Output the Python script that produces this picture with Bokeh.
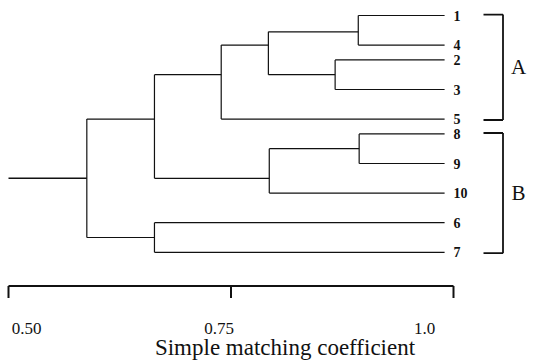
from bokeh.plotting import figure
from bokeh.models import Range1d, ColumnDataSource
from bokeh.core.properties import value
from bokeh.embed import file_html
from bokeh.resources import INLINE

# ---------------- data ----------------
leaf_labels = ["1", "4", "2", "3", "5", "8", "9", "10", "6", "7"]
leaf_rows = [0, 1, 1.5, 2.5, 3.5, 4, 5, 6, 7, 8]
leaf_similarity = 0.99

merge_names = ["m1", "m2", "m3", "m4", "m5", "m6", "m7", "m8", "m9"]
merge_left = ["1", "2", "m1", "m3", "8", "m5", "m4", "6", "m7"]
merge_right = ["4", "3", "m2", "5", "9", "10", "m6", "7", "m8"]
merge_similarity = [0.893, 0.867, 0.792, 0.739, 0.894, 0.793, 0.664, 0.664, 0.588]
merge_rows = [0.55, 2.0, 1.0, 2.0, 4.5, 5.5, 3.5, 7.5, 5.5]

cluster_names = ["A", "B"]
cluster_members = [["1", "4", "2", "3", "5"], ["8", "9", "10", "6", "7"]]

tick_values = [0.50, 0.75, 1.0]
tick_labels = ["0.50", "0.75", "1.0"]
axis_title = "Simple matching coefficient"

# ---------------- layout ----------------
W, H = 537, 361
PX_PER_UNIT = 890.0
ROW_PX = 29.6
TOP = 15.0      # pixel row of the first leaf
LEFT = 8.0      # pixel column of the scale's start
SERIF = value("Liberation Serif")
INK = "#111111"


def row_at(py):
    return (py - TOP) / ROW_PX


def sim_at(px):
    return tick_values[0] + (px - LEFT) / PX_PER_UNIT


p = figure(width=W, height=H, output_backend="svg", toolbar_location=None,
           x_range=Range1d(sim_at(0), sim_at(W)),
           y_range=Range1d(row_at(H), row_at(0)),
           x_axis_location=None, y_axis_location=None, min_border=0)
p.outline_line_color = None
p.grid.visible = False
p.background_fill_color = "white"
p.border_fill_color = "white"

# node positions
x_of = {lab: leaf_similarity for lab in leaf_labels}
y_of = dict(zip(leaf_labels, leaf_rows))
for n, s, r in zip(merge_names, merge_similarity, merge_rows):
    x_of[n] = s
    y_of[n] = r

x0, y0, x1, y1 = [], [], [], []
for n, a, b in zip(merge_names, merge_left, merge_right):
    s = x_of[n]
    x0.append(s); y0.append(y_of[a]); x1.append(s); y1.append(y_of[b])
    for c in (a, b):
        x0.append(s); y0.append(y_of[c]); x1.append(x_of[c]); y1.append(y_of[c])

p.segment(x0=x0, y0=y0, x1=x1, y1=y1, line_color=INK, line_width=1.2)

# root stem
root = merge_names[-1]
p.segment(x0=[tick_values[0]], y0=[y_of[root]], x1=[x_of[root]], y1=[y_of[root]],
          line_color=INK, line_width=1.6)

# leaf labels
p.text(x=[leaf_similarity] * len(leaf_labels), y=leaf_rows, text=leaf_labels,
       x_offset=9, text_align="left", text_baseline="middle",
       text_font=SERIF, text_font_size="14px", text_font_style="bold", text_color=INK)

# cluster brackets
bx0, bx1, bxl = sim_at(483), sim_at(502.5), sim_at(518)
for name, members in zip(cluster_names, cluster_members):
    rows = [y_of[m] for m in members]
    top, bot = min(rows) - 0.03, max(rows) + 0.03
    p.segment(x0=[bx0, bx1, bx0], y0=[top, top, bot], x1=[bx1, bx1, bx1], y1=[top, bot, bot],
              line_color=INK, line_width=1.8)
    p.text(x=[bxl], y=[(top + bot) / 2], text=[name], text_align="center",
           text_baseline="middle", text_font=SERIF, text_font_size="21px", text_color=INK)

# scale bar
ax_row = row_at(285.5)
tick_end = row_at(297.5)
p.segment(x0=[tick_values[0]], y0=[ax_row], x1=[tick_values[-1]], y1=[ax_row],
          line_color=INK, line_width=2)
p.segment(x0=tick_values, y0=[ax_row] * len(tick_values), x1=tick_values,
          y1=[tick_end] * len(tick_values), line_color=INK, line_width=2)
lab_src = ColumnDataSource(dict(x=tick_values, y=[row_at(328)] * len(tick_values),
                                text=tick_labels, dx=[18, -12, -29]))
p.text(x="x", y="y", text="text", x_offset="dx", source=lab_src, text_align="center",
       text_baseline="alphabetic", text_font=SERIF, text_font_size="17px", text_color=INK)
p.text(x=[(tick_values[0] + tick_values[-1]) / 2], y=[row_at(347)], text=[axis_title],
       x_offset=54, text_align="center", text_baseline="alphabetic",
       text_font=SERIF, text_font_size="23px", text_color=INK)

open("out.html", "w").write(file_html(p, INLINE))
